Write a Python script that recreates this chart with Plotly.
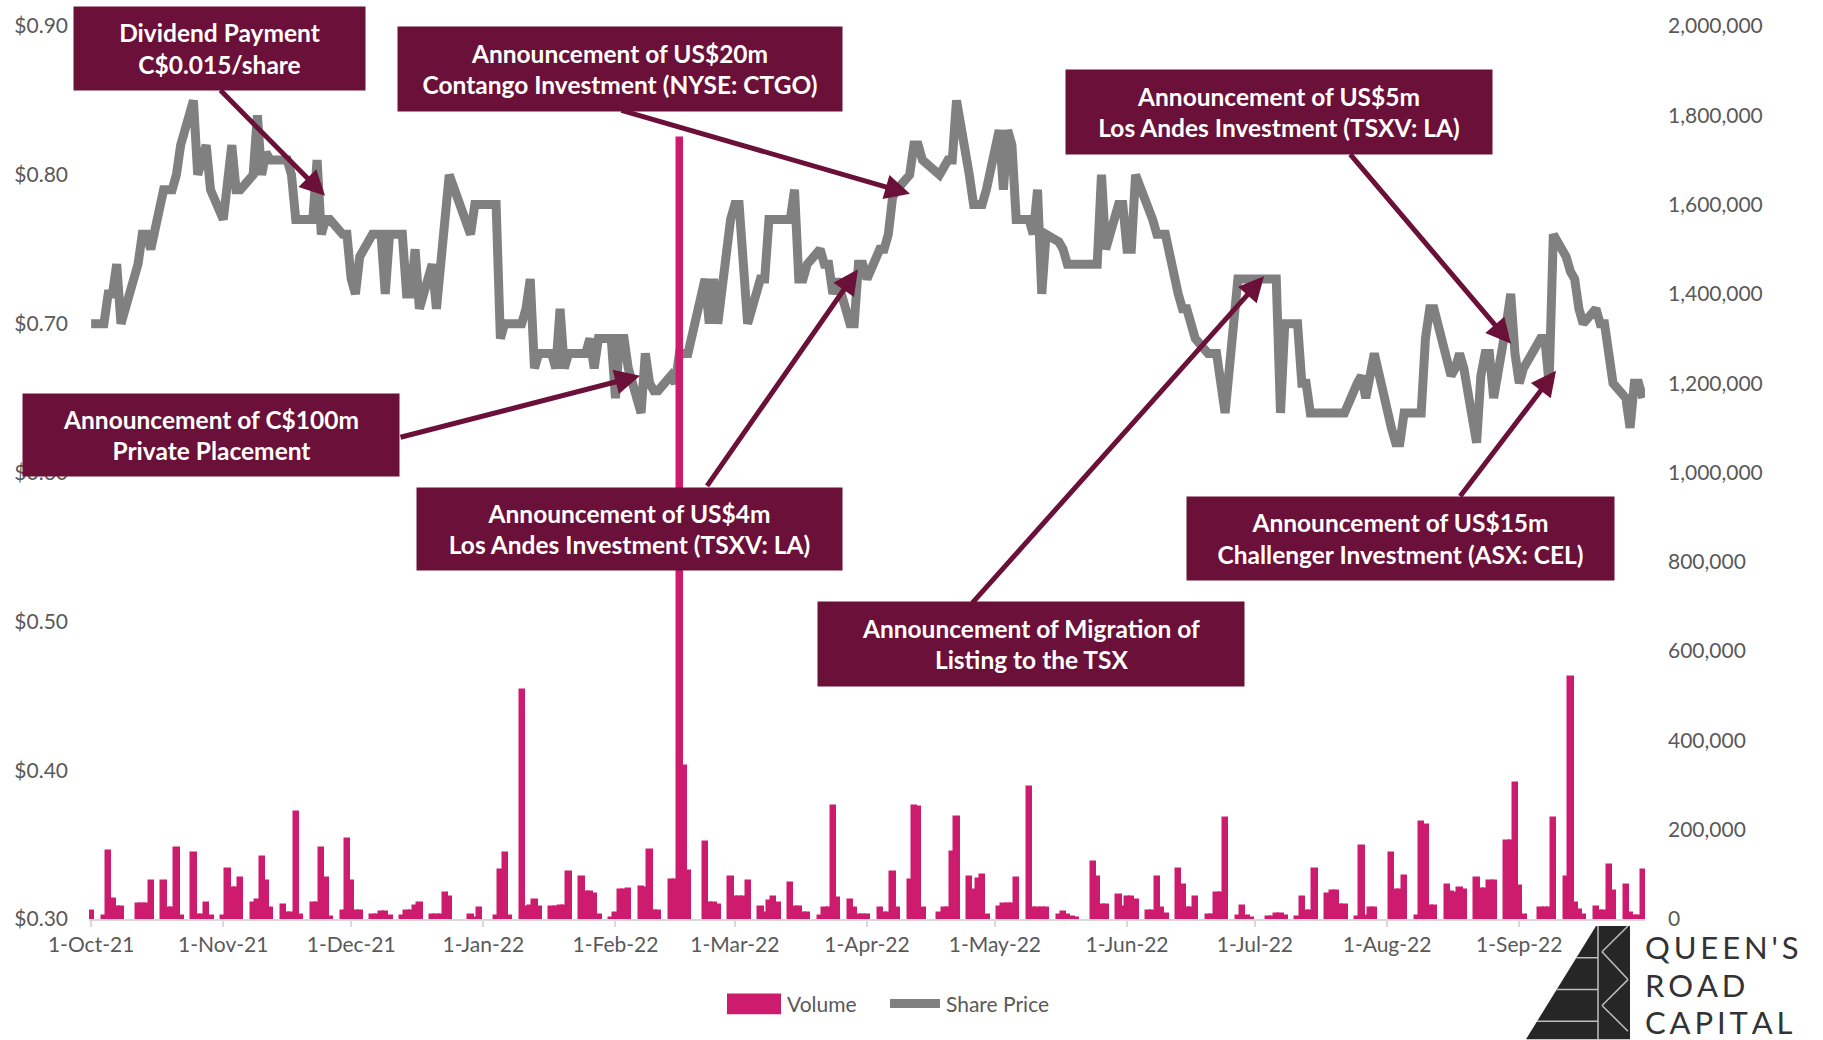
import plotly.graph_objects as go
import pandas as pd

# trading calendar (TSX/TSXV holidays removed)
months = ["2021-10", "2021-11", "2021-12", "2022-01", "2022-02", "2022-03",
          "2022-04", "2022-05", "2022-06", "2022-07", "2022-08", "2022-09"]
holidays = ["2021-10-11", "2021-12-27", "2021-12-28", "2022-01-03", "2022-02-21",
            "2022-04-15", "2022-05-23", "2022-07-01", "2022-08-01", "2022-09-05"]

# daily closing share price, C$
price_oct = [0.70, 0.70, 0.72, 0.72, 0.74, 0.70, 0.74, 0.76, 0.76, 0.75, 0.79, 0.79, 0.79, 0.80, 0.82, 0.85, 0.80, 0.81, 0.82, 0.79]
price_nov = [0.77, 0.795, 0.82, 0.79, 0.79, 0.80, 0.84, 0.80, 0.815, 0.81, 0.81, 0.81, 0.80, 0.77, 0.77, 0.77, 0.81, 0.76, 0.77, 0.77, 0.76, 0.76]
price_dec = [0.73, 0.72, 0.745, 0.76, 0.76, 0.76, 0.72, 0.76, 0.76, 0.72, 0.72, 0.75, 0.71, 0.74, 0.71, 0.74, 0.77, 0.80, 0.76, 0.78, 0.78]
price_jan = [0.78, 0.69, 0.70, 0.70, 0.70, 0.71, 0.73, 0.67, 0.68, 0.68, 0.67, 0.71, 0.67, 0.68, 0.68, 0.68, 0.69, 0.67, 0.69, 0.69]
price_feb = [0.65, 0.69, 0.69, 0.67, 0.64, 0.68, 0.66, 0.655, 0.655, 0.665, 0.66, 0.68, 0.68, 0.68, 0.73, 0.70, 0.73, 0.70, 0.77]
price_mar = [0.78, 0.78, 0.73, 0.70, 0.73, 0.73, 0.77, 0.77, 0.77, 0.77, 0.79, 0.73, 0.73, 0.74, 0.75, 0.74, 0.74, 0.72, 0.73, 0.70, 0.70, 0.74, 0.74]
price_apr = [0.73, 0.75, 0.75, 0.76, 0.785, 0.79, 0.80, 0.82, 0.82, 0.81, 0.80, 0.805, 0.81, 0.81, 0.85, 0.80, 0.78, 0.78, 0.78, 0.79]
price_may = [0.83, 0.79, 0.83, 0.82, 0.77, 0.77, 0.76, 0.79, 0.72, 0.76, 0.755, 0.75, 0.74, 0.74, 0.74, 0.74, 0.74, 0.80, 0.75, 0.78, 0.78]
price_jun = [0.75, 0.75, 0.80, 0.78, 0.77, 0.76, 0.76, 0.76, 0.72, 0.71, 0.71, 0.70, 0.69, 0.68, 0.68, 0.68, 0.66, 0.64, 0.73, 0.73, 0.73, 0.73]
price_jul = [0.73, 0.73, 0.73, 0.64, 0.70, 0.70, 0.66, 0.66, 0.64, 0.64, 0.64, 0.64, 0.64, 0.64, 0.64, 0.66, 0.665, 0.65, 0.67, 0.68]
price_aug = [0.63, 0.62, 0.62, 0.64, 0.64, 0.64, 0.69, 0.71, 0.71, 0.68, 0.665, 0.67, 0.68, 0.67, 0.62, 0.665, 0.68, 0.68, 0.65, 0.70, 0.72, 0.68]
price_sep = [0.66, 0.67, 0.69, 0.69, 0.66, 0.76, 0.745, 0.735, 0.73, 0.71, 0.70, 0.71, 0.70, 0.70, 0.68, 0.66, 0.65, 0.63, 0.66, 0.66, 0.65]

# daily volume, thousands of shares
vol_oct = [17, 6, 153, 45, 27, 27, 34, 34, 34, 84, 86, 25, 25, 160, 6, 147, 10, 10, 36, 6]
vol_nov = [6, 113, 69, 70, 91, 36, 43, 138, 84, 25, 32, 13, 13, 240, 10, 36, 36, 160, 91, 5, 17, 180]
vol_dec = [84, 17, 17, 10, 10, 15, 15, 6, 6, 19, 19, 30, 36, 8, 10, 10, 58, 50, 10, 3, 25]
vol_jan = [6, 110, 148, 6, 512, 28, 30, 43, 27, 28, 28, 30, 30, 105, 93, 60, 60, 55, 10, 3]
vol_feb = [13, 65, 65, 67, 71, 70, 154, 17, 17, 88, 88, 1750, 343, 108, 173, 36, 36, 32, 95]
vol_mar = [49, 49, 49, 85, 28, 13, 40, 50, 36, 80, 28, 28, 13, 13, 6, 25, 25, 254, 47, 43, 25, 10, 10]
vol_apr = [8, 25, 13, 13, 106, 25, 88, 254, 250, 25, 13, 25, 25, 150, 228, 95, 65, 90, 98, 10]
vol_may = [27, 34, 34, 34, 91, 295, 25, 25, 25, 25, 10, 15, 10, 5, 3, 128, 95, 32, 32, 54, 28]
vol_jun = [50, 50, 43, 19, 19, 95, 25, 12, 113, 76, 25, 25, 49, 10, 10, 58, 58, 227, 6, 30, 6, 3]
vol_jul = [4, 4, 12, 12, 6, 4, 49, 17, 17, 112, 56, 62, 62, 32, 32, 5, 163, 6, 25, 25]
vol_aug = [147, 65, 65, 96, 6, 217, 210, 30, 30, 76, 60, 58, 69, 66, 91, 67, 67, 86, 86, 175, 175, 305]
vol_sep = [73, 10, 25, 25, 25, 227, 95, 541, 36, 20, 10, 27, 17, 17, 121, 62, 76, 13, 6, 6, 110]

# axis tick labels
price_ticks = [0.30, 0.40, 0.50, 0.60, 0.70, 0.80, 0.90]
price_tick_labels = ["$0.30", "$0.40", "$0.50", "$0.60", "$0.70", "$0.80", "$0.90"]

price_months = [price_oct, price_nov, price_dec, price_jan, price_feb, price_mar,
                price_apr, price_may, price_jun, price_jul, price_aug, price_sep]
vol_months = [vol_oct, vol_nov, vol_dec, vol_jan, vol_feb, vol_mar,
              vol_apr, vol_may, vol_jun, vol_jul, vol_aug, vol_sep]

dates, price, volume = [], [], []
for m, p, v in zip(months, price_months, vol_months):
    days = pd.bdate_range(m + "-01", pd.Period(m).end_time.normalize())
    days = [d for d in days if d.strftime("%Y-%m-%d") not in holidays]
    assert len(days) == len(p) == len(v), (m, len(days), len(p), len(v))
    dates += days
    price += p
    volume += [k * 1000 for k in v]

MAROON = "#6B1038"
PINK = "#CD1B6E"
GREY = "#808080"
TXT = "#595959"

fig = go.Figure()

fig.add_trace(go.Scatter(
    x=dates, y=price, name="Share Price", mode="lines",
    line=dict(color=GREY, width=9), yaxis="y"
))
fig.add_trace(go.Bar(
    x=dates, y=volume, name="Volume", yaxis="y2",
    marker=dict(color=PINK, line=dict(color=PINK, width=2.5)),
    width=86400000
))

# page geometry for the callouts
L, R, T, B, W, H = 89, 178, 20, 121, 1823, 1040
PW, PH = W - L - R, H - T - B
def px(x):
    return (x - L) / PW
def py(y):
    return (H - B - y) / PH

callouts = [
    ("Dividend Payment<br>C$0.015/share", (74, 1, 365, 84), (219, 84), (325, 191)),
    ("Announcement of US$20m<br>Contango Investment (NYSE: CTGO)", (398, 21, 842, 105), (620, 105), (910, 189)),
    ("Announcement of US$5m<br>Los Andes Investment (TSXV: LA)", (1066, 65, 1492, 149), (1349, 149), (1511, 340)),
    ("Announcement of C$100m<br>Private Placement", (23, 391, 399, 473), (399, 434), (640, 372)),
    ("Announcement of US$4m<br>Los Andes Investment (TSXV: LA)", (417, 485, 842, 567), (706, 483), (858, 265)),
    ("Announcement of Migration of<br>Listing to the TSX", (818, 600, 1244, 684), (971, 600), (1264, 272)),
    ("Announcement of US$15m<br>Challenger Investment (ASX: CEL)", (1187, 494, 1614, 577), (1459, 494), (1556, 367)),
]

annotations = []
for text, box, tail, head in callouts:
    annotations.append(dict(
        xref="paper", yref="paper", x=px(head[0]), y=py(head[1]),
        ax=tail[0] - head[0], ay=tail[1] - head[1], text="",
        showarrow=True, arrowhead=2, arrowsize=1, arrowwidth=5, arrowcolor=MAROON
    ))
for text, box, tail, head in callouts:
    x0, y0, x1, y1 = box
    lines = "<br>".join("<b>%s</b>" % s for s in text.split("<br>"))
    annotations.append(dict(
        xref="paper", yref="paper", x=px((x0 + x1) / 2), y=py((y0 + y1) / 2),
        xanchor="center", yanchor="middle", width=x1 - x0, height=y1 - y0,
        text=lines, showarrow=False, bgcolor=MAROON, borderpad=0, align="center",
        font=dict(family="Lato", size=24.5, color="white")
    ))

# legend drawn by hand to match the wide swatches
annotations.append(dict(xref="paper", yref="paper", x=px(785), y=py(1004), xanchor="left",
                        yanchor="middle", text="Volume", showarrow=False,
                        font=dict(family="Lato", size=21, color=TXT)))
annotations.append(dict(xref="paper", yref="paper", x=px(944), y=py(1004), xanchor="left",
                        yanchor="middle", text="Share Price", showarrow=False,
                        font=dict(family="Lato", size=21, color=TXT)))

# Queen's Road Capital logo
for i, word in enumerate(["Q\u2009U\u2009E\u2009E\u2009N\u2009'\u2009S", "R\u2009O\u2009A\u2009D", "C\u2009A\u2009P\u2009I\u2009T\u2009A\u2009L"]):
    annotations.append(dict(
        xref="paper", yref="paper", x=px(1643), y=py(947 + i * 38),
        xanchor="left", yanchor="middle", text=word, showarrow=False,
        font=dict(family="Lato", size=31, color="#333333")
    ))

shapes = [
    dict(type="rect", xref="paper", yref="paper", x0=px(727), x1=px(781), y0=py(994), y1=py(1015),
         fillcolor=PINK, line=dict(width=0)),
    dict(type="line", xref="paper", yref="paper", x0=px(890), x1=px(940), y0=py(1004), y1=py(1004),
         line=dict(color=GREY, width=9)),
    dict(type="path", xref="paper", yref="paper", fillcolor="#262626", line=dict(width=0),
         path="M %f %f L %f %f L %f %f L %f %f Z" % (px(1526), py(1040), px(1596), py(926),
                                                     px(1630), py(926), px(1630), py(1040))),
]
for yy in [958, 990, 1022]:
    shapes.append(dict(type="line", xref="paper", yref="paper",
                       x0=px(1526 + (1040 - yy) * 70 / 114), y0=py(yy), x1=px(1598), y1=py(yy),
                       line=dict(color="#BFBFBF", width=1.5)))
shapes.append(dict(type="line", xref="paper", yref="paper", x0=px(1598), y0=py(926), x1=px(1598), y1=py(1040),
                   line=dict(color="#BFBFBF", width=1.5)))
zig = [(1628, 926), (1602, 952), (1628, 980), (1602, 1006), (1628, 1032)]
for a, b in zip(zig[:-1], zig[1:]):
    shapes.append(dict(type="line", xref="paper", yref="paper", x0=px(a[0]), y0=py(a[1]),
                       x1=px(b[0]), y1=py(b[1]), line=dict(color="#BFBFBF", width=1.5)))

month_ticks = pd.date_range("2021-10-01", "2022-09-01", freq="MS")

fig.update_layout(
    width=W, height=H,
    margin=dict(l=L, r=R, t=T, b=B),
    plot_bgcolor="white", paper_bgcolor="white",
    font=dict(family="Lato", size=21, color=TXT),
    bargap=0,
    showlegend=False,
    xaxis=dict(
        type="date", range=["2021-09-30 12:00", "2022-09-30 12:00"],
        tickvals=month_ticks, tickformat="%-d-%b-%y",
        showgrid=False, zeroline=False, showline=True, linecolor="#D9D9D9", linewidth=2,
        ticks="outside", ticklen=6, tickcolor="#D9D9D9", tickwidth=1.5,
        tickfont=dict(size=21, color=TXT)
    ),
    yaxis=dict(
        range=[0.30, 0.90], tickvals=price_ticks, ticktext=price_tick_labels,
        showgrid=False, zeroline=False,
        ticklabelstandoff=20, tickfont=dict(size=21, color=TXT)
    ),
    yaxis2=dict(
        range=[0, 2000000], dtick=200000, tickformat=",d", overlaying="y", side="right",
        showgrid=False, zeroline=False, ticklabelstandoff=22,
        tickfont=dict(size=21, color=TXT)
    ),
    annotations=annotations,
    shapes=shapes,
)

fig.write_html("out.html", config={"displayModeBar": False},
               post_script="document.body.style.margin='0';")
